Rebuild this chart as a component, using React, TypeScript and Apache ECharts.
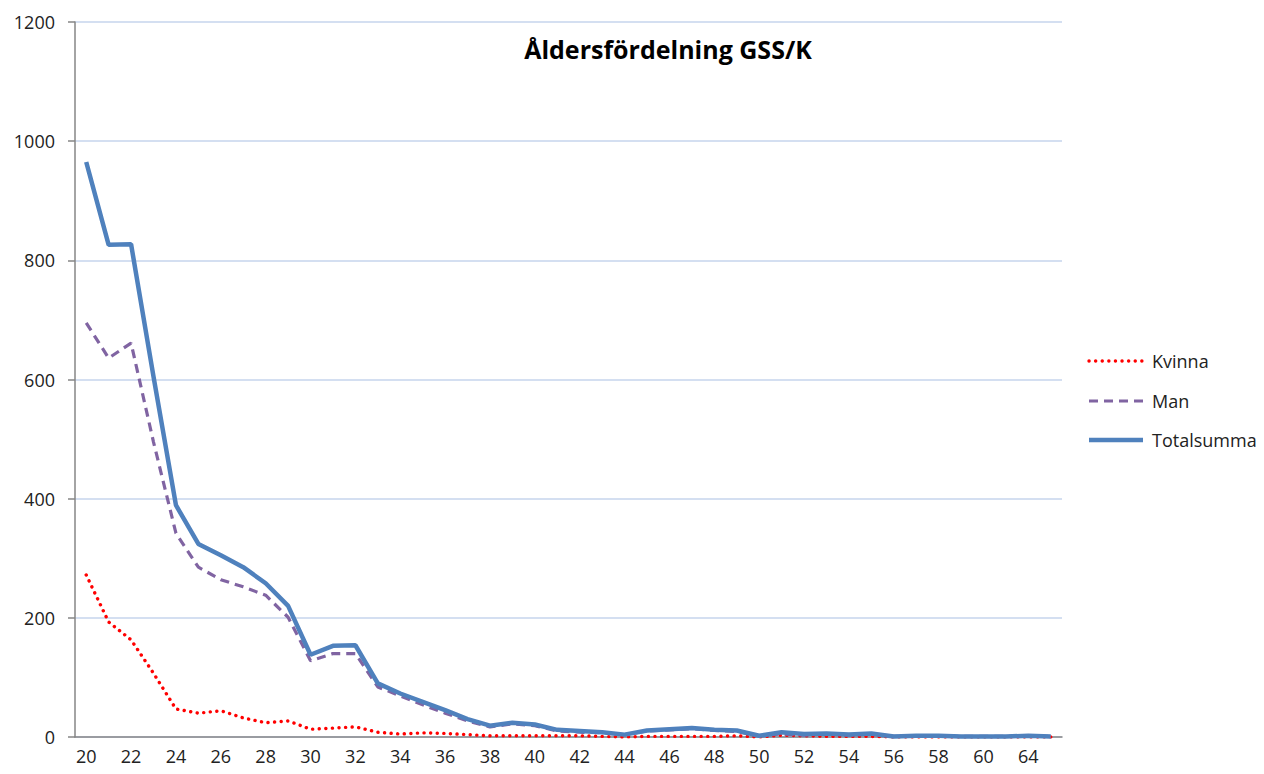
import React, { useEffect, useRef } from "react";
import * as echarts from "echarts";

const ages = ["20","21","22","23","24","25","26","27","28","29","30","31","32","33","34","35","36","37","38","39","40","41","42","43","44","45","46","47","48","49","50","51","52","53","54","55","56","57","58","59","60","61","64","65"];
const kvinna = [272,193,163,107,47,40,44,32,24,27,13,15,17,8,5,7,6,4,2,2,2,2,2,1,0,1,1,1,1,2,0,3,2,1,1,1,0,0,0,0,0,0,0,0];
const man = [695,636,661,495,342,285,264,252,238,201,128,140,140,84,69,54,40,27,17,22,19,10,8,7,4,10,12,14,11,9,2,5,3,5,3,5,1,2,2,1,1,1,2,1];
const totalsumma = [965,826,827,605,389,324,305,285,258,220,138,153,154,90,73,59,45,30,19,24,21,12,10,8,4,11,13,15,12,11,2,8,5,6,4,6,1,2,2,1,1,1,2,1];
const yTicks = { min: 0, max: 1200, interval: 200 };
const title = "Åldersfördelning GSS/K";
const seriesNames = ["Kvinna", "Man", "Totalsumma"];
const seriesColors = ["#ff0000", "#8064a2", "#4f81bd"];

export default function App() {
  const ref = useRef<HTMLDivElement>(null);
  useEffect(() => {
    document.body.style.margin = "0";
    const chart = echarts.init(ref.current!, null, { renderer: "svg" });
    const font = "'Open Sans', 'Noto Sans', sans-serif";
    const lineStyles = [
      { color: seriesColors[0], width: 3.4, type: [0.1, 6.5], cap: "round" },
      { color: seriesColors[1], width: 3.2, type: [9, 6] },
      { color: seriesColors[2], width: 4.5 },
    ];
    const legendY = [361, 401, 440];
    const legendGraphics: any[] = [];
    seriesNames.forEach((n, i) => {
      const ls: any = lineStyles[i];
      legendGraphics.push({
        type: "line",
        shape: { x1: 1089, y1: legendY[i], x2: 1143, y2: legendY[i] },
        style: {
          stroke: ls.color,
          lineWidth: ls.width,
          lineDash: Array.isArray(ls.type) ? ls.type : null,
          lineCap: ls.cap || "butt",
        },
      });
      legendGraphics.push({
        type: "text",
        x: 1152,
        y: legendY[i],
        style: { text: n, font: `18px ${font}`, fill: "#222", textVerticalAlign: "middle" },
      });
    });
    chart.setOption({
      animation: false,
      backgroundColor: "#ffffff",
      title: {
        text: title,
        left: 663,
        top: 31,
        textAlign: "center",
        textStyle: { fontFamily: font, fontSize: 25, fontWeight: "bold", color: "#000" },
      },
      graphic: legendGraphics,
      grid: { left: 75, right: 202, top: 22, bottom: 37, containLabel: false },
      xAxis: {
        type: "category",
        data: ages,
        boundaryGap: true,
        axisLine: { lineStyle: { color: "#868686", width: 1.5 } },
        axisTick: { interval: 0, length: 7, lineStyle: { color: "#868686", width: 1.5 } },
        axisLabel: { interval: 1, fontFamily: font, fontSize: 18, color: "#222", margin: 10 },
        splitLine: { show: false },
      },
      yAxis: {
        type: "value",
        min: yTicks.min,
        max: yTicks.max,
        interval: yTicks.interval,
        axisLine: { show: true, lineStyle: { color: "#868686", width: 1.5 } },
        axisTick: { show: true, length: 7, lineStyle: { color: "#868686", width: 1.5 } },
        axisLabel: { fontFamily: font, fontSize: 18, color: "#222", margin: 20, formatter: (v: number) => String(v) },
        splitLine: { lineStyle: { color: "#c6d4ec", width: 1.5 } },
      },
      series: [
        { name: seriesNames[0], type: "line", data: kvinna, symbol: "none", color: seriesColors[0], lineStyle: lineStyles[0], z: 2 },
        { name: seriesNames[1], type: "line", data: man, symbol: "none", color: seriesColors[1], lineStyle: lineStyles[1], z: 3 },
        { name: seriesNames[2], type: "line", data: totalsumma, symbol: "none", color: seriesColors[2], lineStyle: lineStyles[2], z: 4 },
      ],
    });
    return () => chart.dispose();
  }, []);
  return <div ref={ref} style={{ width: 1264, height: 774 }} />;
}
